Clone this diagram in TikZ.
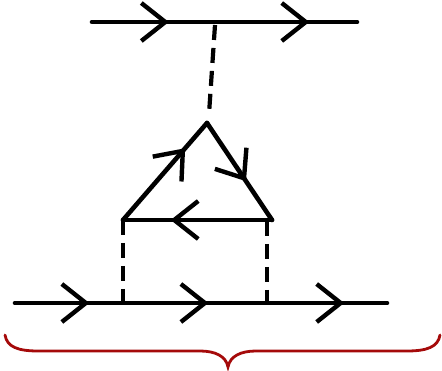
\documentclass[tikz,border=0pt]{standalone}
\usetikzlibrary{arrows.meta,decorations.markings}
\definecolor{bracered}{RGB}{165,10,10}
\begin{document}
\begin{tikzpicture}[x=1pt,y=-1pt,
  fermion/.style={line width=4.6pt,line cap=round,black},
  arr/.style={postaction={decorate,decoration={markings,
     mark=at position #1 with {\arrow{Straight Barb[length=24pt,width=38pt,line width=4.4pt]}}}}},
  phonon/.style={line width=4.2pt,dash pattern=on 15pt off 8pt,black},
  brace/.style={line width=2.8pt,bracered,line cap=round}]
\useasboundingbox (0,0) rectangle (442,371);
% coordinates
\coordinate (tl) at (92,22);
\coordinate (tr) at (357,22);
\coordinate (tv) at (215,25);
\coordinate (tb) at (209,114);
\coordinate (A) at (207,123);
\coordinate (L) at (123,220);
\coordinate (R) at (272,220);
\coordinate (bl) at (15,303);
\coordinate (br) at (387,303);
\coordinate (bL) at (123,303);
\coordinate (bR) at (267,303);
\coordinate (R2) at (267,221);
% top electron line
\draw[fermion,arr=0.29,arr=0.82] (tl) -- (tr);
% interaction line
\draw[phonon] (tv) -- (tb);
% triangle loop
\draw[fermion,arr=0.74] (L) -- (A);
\draw[fermion,arr=0.6] (A) -- (R);
\draw[fermion,arr=0.68] (R) -- (L);
% lower interaction lines
\draw[phonon] (L) -- (bL);
\draw[phonon] (R2) -- (bR);
% bottom electron line
\draw[fermion,arr=0.2,arr=0.52,arr=0.885] (bl) -- (br);
% brace
\coordinate (b1) at (5,335);
\coordinate (b2) at (440,335);
\coordinate (bt) at (228,367);
\draw[brace] (b1) .. controls (7,347) and (18,351) .. (38,351) -- (200,351)
  .. controls (215,351) and (226,356) .. (bt)
  .. controls (230,356) and (241,351) .. (256,351) -- (407,351)
  .. controls (427,351) and (438,347) .. (b2);
\end{tikzpicture}
\end{document}
